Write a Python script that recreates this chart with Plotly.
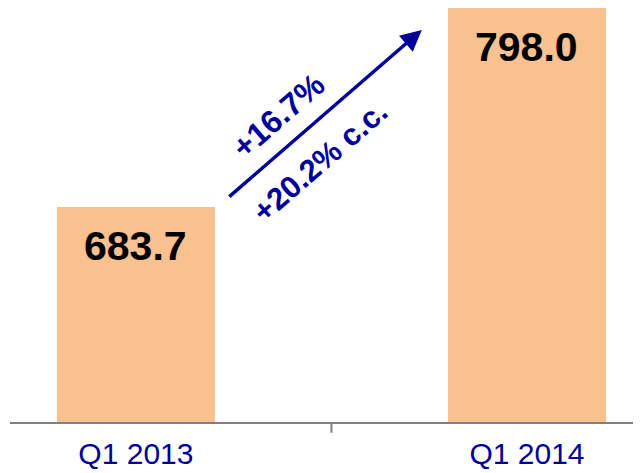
import plotly.graph_objects as go

categories = ["Q1 2013", "Q1 2014"]
values = [683.7, 798.0]
value_labels = ["683.7", "798.0"]
growth_lines = ["+16.7%", "+20.2% c.c."]

BAR = "#F9C18F"
BLUE = "#000099"
NARROW = "Liberation Sans Narrow, Arial Narrow, Liberation Sans, Arial, sans-serif"

fig = go.Figure()
fig.add_trace(go.Bar(x=[0, 1], y=values, marker=dict(color=BAR, line=dict(width=0)),
                     width=0.404, hoverinfo="skip"))

for i, (v, t) in enumerate(zip(values, value_labels)):
    fig.add_annotation(x=i, y=v, text="<b>%s</b>" % t, showarrow=False, xref="x", yref="y",
                       yanchor="top", yshift=-14,
                       font=dict(family=NARROW, size=41, color="black"))

# growth arrow between bars
fig.add_annotation(x=0.731, y=785.4, ax=0.235, ay=688.9, xref="x", yref="y", axref="x", ayref="y",
                   text="", showarrow=True, arrowhead=2, arrowsize=1.2, arrowwidth=3.5,
                   arrowcolor=BLUE)
fig.add_annotation(x=0.364, y=735.8, xref="x", yref="y", text="<b>%s</b>" % growth_lines[0],
                   showarrow=False, textangle=-41,
                   font=dict(family=NARROW, size=32, color=BLUE))
fig.add_annotation(x=0.471, y=709.8, xref="x", yref="y", text="<b>%s</b>" % growth_lines[1],
                   showarrow=False, textangle=-41,
                   font=dict(family=NARROW, size=31, color=BLUE))

fig.update_layout(
    width=633, height=465,
    margin=dict(l=2, r=0, t=0, b=51),
    paper_bgcolor="white", plot_bgcolor="white",
    showlegend=False,
    xaxis=dict(range=[-0.322, 1.2916], tickmode="array", tickvals=[0, 0.5, 1],
               ticktext=[categories[0], "", categories[1]],
               showline=True, linecolor="#808080", linewidth=2,
               ticks="", showgrid=False, zeroline=False, ticklabelstandoff=4,
               tickfont=dict(family=NARROW, size=30, color=BLUE)),
    yaxis=dict(range=[560.2, 798.0], visible=False, showgrid=False, zeroline=False),
)
# middle tick mark on the category boundary
fig.add_shape(type="line", xref="x", yref="paper", x0=0.5, x1=0.5, y0=0, y1=-0.026,
              line=dict(color="#808080", width=2))

fig.write_html("out.html")
